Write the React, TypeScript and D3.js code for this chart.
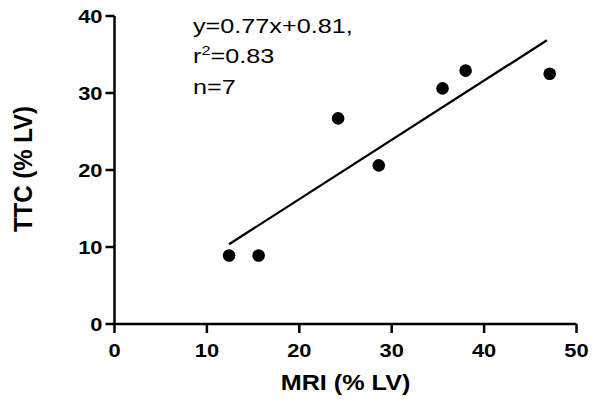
import React from "react";
import * as d3 from "d3";

const mriValues = [12.4, 15.6, 24.2, 28.6, 35.5, 38.0, 47.1];
const ttcValues = [8.9, 8.9, 26.7, 20.6, 30.6, 32.9, 32.5];
const xTicks = [0, 10, 20, 30, 40, 50];
const yTicks = [0, 10, 20, 30, 40];
const slope = 0.77;
const intercept = 0.81;
const annotation = ["y=0.77x+0.81,", "r2=0.83", "n=7"];

export default function App() {
  const W = 600, H = 403;
  const x = d3.scaleLinear().domain([0, 50]).range([114.5, 576.5]);
  const y = d3.scaleLinear().domain([0, 40]).range([324, 16]);
  const x0 = d3.min(mriValues)!;
  const x1 = 46.8;
  const font = "Liberation Sans, Arial, sans-serif";
  const tickS = 1.15;
  const annS = 1.2;
  return (
    <svg width={W} height={H} style={{ position: "absolute", left: 0, top: 0, background: "#fff" }}>
      <rect width={W} height={H} fill="#fff" />
      {/* axes */}
      <line x1={x(0)} x2={x(0)} y1={y(40)} y2={y(0) + 1.25} stroke="#000" strokeWidth={2.5} />
      <line x1={x(0) - 1.25} x2={x(50)} y1={y(0)} y2={y(0)} stroke="#000" strokeWidth={2.5} />
      {yTicks.map((t) => (
        <g key={"y" + t}>
          <line x1={x(0) - 9} x2={x(0)} y1={y(t)} y2={y(t)} stroke="#000" strokeWidth={2.5} />
          <text transform={`translate(${x(0) - 12},${y(t)}) scale(${tickS},1)`} dy="0.36em" textAnchor="end" fontFamily={font} fontWeight="bold" fontSize={19}>{t}</text>
        </g>
      ))}
      {xTicks.map((t) => (
        <g key={"x" + t}>
          <line x1={x(t)} x2={x(t)} y1={y(0)} y2={y(0) + 9} stroke="#000" strokeWidth={2.5} />
          <text transform={`translate(${x(t)},${y(0) + 33}) scale(${tickS},1)`} textAnchor="middle" fontFamily={font} fontWeight="bold" fontSize={19}>{t}</text>
        </g>
      ))}
      <text transform={`translate(345.5,390) scale(1.12,1)`} textAnchor="middle" fontFamily={font} fontWeight="bold" fontSize={22.5}>MRI (% LV)</text>
      <text transform={`translate(31.5,169) rotate(-90) scale(1,1.1)`} textAnchor="middle" fontFamily={font} fontWeight="bold" fontSize={24}>TTC (% LV)</text>
      {/* regression line */}
      <line x1={x(x0)} y1={y(slope * x0 + intercept)} x2={x(x1)} y2={y(slope * x1 + intercept)} stroke="#000" strokeWidth={2.3} />
      {mriValues.map((m, i) => (
        <circle key={i} cx={x(m)} cy={y(ttcValues[i])} r={6.3} fill="#000" />
      ))}
      <g fontFamily={font} fontSize={21}>
        <text transform={`translate(193,33) scale(${annS},1)`}>{annotation[0]}</text>
        <text transform={`translate(193,63) scale(${annS},1)`}>r<tspan dy={-8} fontSize={13.5}>2</tspan><tspan dy={8}>=0.83</tspan></text>
        <text transform={`translate(193,94) scale(${annS},1)`}>{annotation[2]}</text>
      </g>
    </svg>
  );
}
